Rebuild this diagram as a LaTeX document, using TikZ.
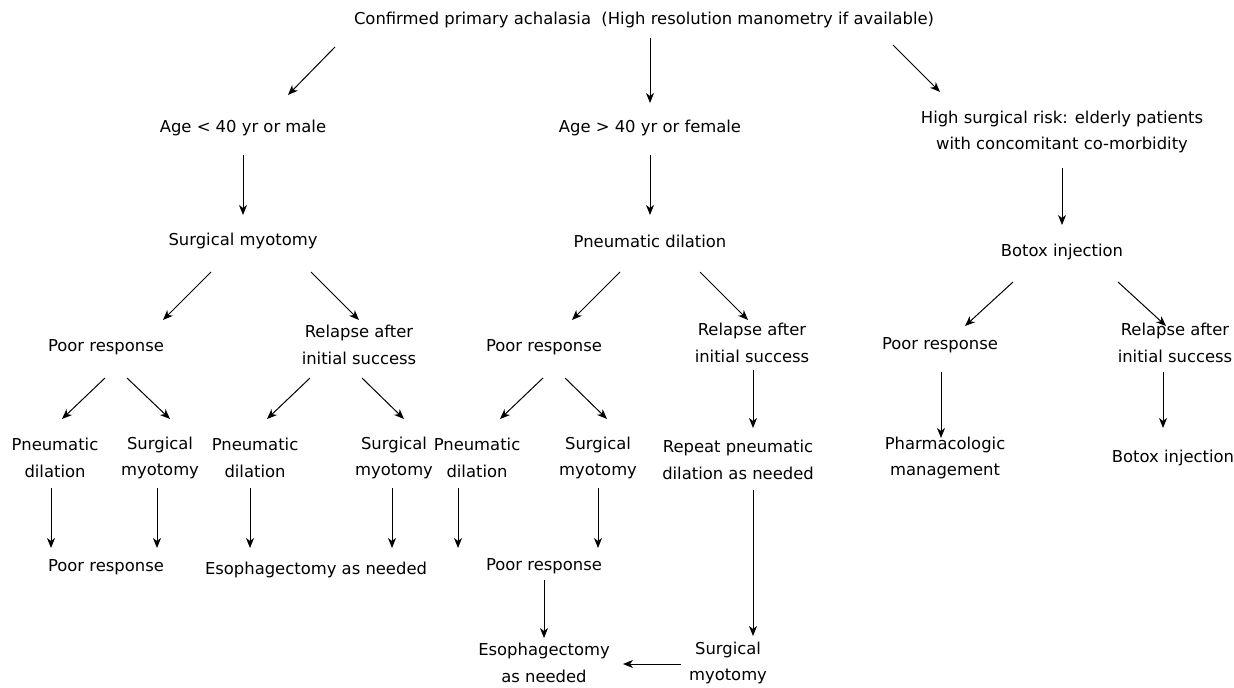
\documentclass[tikz,border=0pt]{standalone}
\usepackage{fontspec}
\setmainfont{DejaVu Sans}
\usetikzlibrary{arrows.meta, calc}

\begin{document}
\begin{tikzpicture}[x=0.5pt, y=-0.5pt,
  every node/.style={font=\fontsize{8.2}{13.3}\selectfont, align=center, inner sep=0pt},
  arr/.style={-{Stealth[length=5pt,width=4pt,inset=1.5pt]}, line width=0.5pt}]
\useasboundingbox (0,0) rectangle (1234,688);
% Top level
\node (Top) at (644,20) {Confirmed primary achalasia\ \ (High resolution manometry if available)};
\node (Young) at (243,128) {Age < 40 yr or male};
\node (Old) at (650,128) {Age > 40 yr or female};
\node (Risk) at (1062,132) {High surgical risk: elderly patients\\with concomitant co-morbidity};
% Initial treatment
\node (Myo) at (243,241) {Surgical myotomy};
\node (Dil) at (650,241) {Pneumatic dilation};
\node (Botox) at (1062,252) {Botox injection};
% Response
\node (MyoPoor) at (106,347) {Poor response};
\node (MyoRel) at (359,345) {Relapse after\\initial success};
\node (DilPoor) at (544,347) {Poor response};
\node (DilRel) at (752,343) {Relapse after\\initial success};
\node (BotPoor) at (940,345) {Poor response};
\node (BotRel) at (1175,343) {Relapse after\\initial success};
% Second treatment
\node (MPDil) at (55,458) {Pneumatic\\dilation};
\node (MPMyo) at (160,458) {Surgical\\myotomy};
\node (MRDil) at (255,458) {Pneumatic\\dilation};
\node (MRMyo) at (394,458) {Surgical\\myotomy};
\node (DPDil) at (477,458) {Pneumatic\\dilation};
\node (DPMyo) at (598,458) {Surgical\\myotomy};
\node (DRRep) at (738,460) {Repeat pneumatic\\dilation as needed};
\node (BPPharm) at (945,458) {Pharmacologic\\management};
\node (BRBotox) at (1173,458) {Botox injection};
% Outcome
\node (MPOut) at (106,567) {Poor response};
\node (MROut) at (316,570) {Esophagectomy as needed};
\node (DPOut) at (544,566) {Poor response};
\node (DEso) at (544,663) {Esophagectomy\\as needed};
\node (DRMyo) at (728,663) {Surgical\\myotomy};
% Arrows
\draw[arr] ([shift={(-309,27)}]Top.center) -- ([shift={(45,-33)}]Young.center);
\draw[arr] ([shift={(6,18)}]Top.center) -- ([shift={(0,-25)}]Old.center);
\draw[arr] ([shift={(249,25)}]Top.center) -- ([shift={(-122,-40)}]Risk.center);
\draw[arr] ([shift={(0,27)}]Young.center) -- ([shift={(0,-26)}]Myo.center);
\draw[arr] ([shift={(0,27)}]Old.center) -- ([shift={(0,-26)}]Dil.center);
\draw[arr] ([shift={(0,36)}]Risk.center) -- ([shift={(0,-27)}]Botox.center);
\draw[arr] ([shift={(-32,31)}]Myo.center) -- ([shift={(57,-27)}]MyoPoor.center);
\draw[arr] ([shift={(68,31)}]Myo.center) -- ([shift={(0,-25)}]MyoRel.center);
\draw[arr] ([shift={(-30,31)}]Dil.center) -- ([shift={(28,-27)}]DilPoor.center);
\draw[arr] ([shift={(50,31)}]Dil.center) -- ([shift={(-4,-23)}]DilRel.center);
\draw[arr] ([shift={(-49,30)}]Botox.center) -- ([shift={(25,-19)}]BotPoor.center);
\draw[arr] ([shift={(56,30)}]Botox.center) -- ([shift={(-9,-17)}]BotRel.center);
\draw[arr] ([shift={(-1,31)}]MyoPoor.center) -- ([shift={(7,-39)}]MPDil.center);
\draw[arr] ([shift={(21,31)}]MyoPoor.center) -- ([shift={(10,-39)}]MPMyo.center);
\draw[arr] ([shift={(-49,33)}]MyoRel.center) -- ([shift={(12,-39)}]MRDil.center);
\draw[arr] ([shift={(3,33)}]MyoRel.center) -- ([shift={(10,-39)}]MRMyo.center);
\draw[arr] ([shift={(-1,31)}]DilPoor.center) -- ([shift={(23,-39)}]DPDil.center);
\draw[arr] ([shift={(21,31)}]DilPoor.center) -- ([shift={(9,-39)}]DPMyo.center);
\draw[arr] ([shift={(1,27)}]DilRel.center) -- ([shift={(15,-32)}]DRRep.center);
\draw[arr] ([shift={(1,27)}]BotPoor.center) -- ([shift={(-4,-20)}]BPPharm.center);
\draw[arr] ([shift={(-12,29)}]BotRel.center) -- ([shift={(-10,-30)}]BRBotox.center);
\draw[arr] ([shift={(-4,30)}]MPDil.center) -- ([shift={(-55,-19)}]MPOut.center);
\draw[arr] ([shift={(-3,30)}]MPMyo.center) -- ([shift={(51,-19)}]MPOut.center);
\draw[arr] ([shift={(-5,30)}]MRDil.center) -- ([shift={(-66,-22)}]MROut.center);
\draw[arr] ([shift={(-2,30)}]MRMyo.center) -- ([shift={(76,-22)}]MROut.center);
\draw[arr] ([shift={(-19,30)}]DPDil.center) -- ([shift={(-86,-18)}]DPOut.center);
\draw[arr] ([shift={(0,30)}]DPMyo.center) -- ([shift={(54,-18)}]DPOut.center);
\draw[arr] ([shift={(15,30)}]DRRep.center) -- ([shift={(25,-27)}]DRMyo.center);
\draw[arr] ([shift={(0,14)}]DPOut.center) -- ([shift={(0,-25)}]DEso.center);
\draw[arr] ([shift={(-47,1)}]DRMyo.center) -- ([shift={(79,1)}]DEso.center);
\end{tikzpicture}
\end{document}
